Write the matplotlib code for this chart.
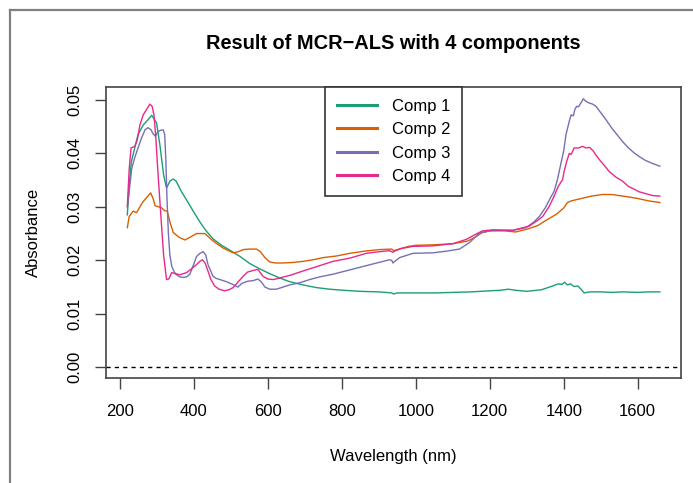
##````````````````````````````````````````````````````````````````````````````````````##
# MCR-ALS result plot, 4 resolved spectra
#
# import libraries
import numpy as np
import matplotlib
matplotlib.use("Agg")
import matplotlib.pyplot as plt
from matplotlib.lines import Line2D

##````````````````````````````````````````````````````````````````````````````````````##
# data (wavelength in nm, absorbance)

comp1_wl = [220, 225, 231, 249, 263, 275, 286, 299, 308, 318, 326, 335, 344, 352, 365,
            380, 398, 416, 433, 452, 475, 497, 525, 551, 578, 605, 632, 659, 695, 731,
            767, 803, 850, 900, 935, 940, 950, 1000, 1050, 1100, 1150, 1200, 1230, 1250,
            1270, 1300, 1340, 1370, 1385, 1395, 1402, 1410, 1418, 1428, 1438, 1448, 1455,
            1470, 1500, 1530, 1560, 1600, 1630, 1660]
comp1_abs = [0.0285, 0.0340, 0.0385, 0.0435, 0.0453, 0.0462, 0.0471, 0.0457, 0.0416, 0.0360,
             0.0335, 0.0348, 0.0352, 0.0348, 0.0330, 0.0313, 0.0292, 0.0272, 0.0255, 0.0240,
             0.0228, 0.0219, 0.0207, 0.0194, 0.0184, 0.0175, 0.0167, 0.0160, 0.0154, 0.0149,
             0.0146, 0.0144, 0.0142, 0.0141, 0.0139, 0.0137, 0.0139, 0.0139, 0.0139, 0.0140,
             0.0141, 0.0143, 0.0144, 0.0146, 0.0144, 0.0142, 0.0145, 0.0152, 0.0156, 0.0155,
             0.0159, 0.0154, 0.0156, 0.0151, 0.0152, 0.0145, 0.0139, 0.0141, 0.0141, 0.0140,
             0.0141, 0.0140, 0.0141, 0.0141]

comp2_wl = [220, 225, 236, 245, 254, 263, 273, 283, 290, 295, 305, 313, 320, 328, 335, 344,
            360, 376, 392, 407, 430, 452, 479, 506, 520, 533, 550, 569, 580, 592, 605, 620,
            641, 668, 695, 722, 749, 785, 821, 860, 900, 935, 940, 950, 980, 1000, 1050,
            1100, 1140, 1160, 1180, 1200, 1240, 1270, 1300, 1330, 1350, 1380, 1400, 1410,
            1420, 1450, 1475, 1504, 1530, 1550, 1580, 1604, 1630, 1660]
comp2_abs = [0.0261, 0.0282, 0.0292, 0.0289, 0.0300, 0.0310, 0.0318, 0.0326, 0.0315, 0.0302,
             0.0300, 0.0298, 0.0293, 0.0292, 0.0272, 0.0252, 0.0243, 0.0238, 0.0244, 0.0250,
             0.0250, 0.0236, 0.0223, 0.0214, 0.0216, 0.0220, 0.0221, 0.0221, 0.0216, 0.0205,
             0.0197, 0.0195, 0.0195, 0.0196, 0.0198, 0.0201, 0.0205, 0.0208, 0.0213, 0.0217,
             0.0220, 0.0221, 0.0218, 0.0220, 0.0226, 0.0228, 0.0229, 0.0231, 0.0236, 0.0243,
             0.0252, 0.0255, 0.0255, 0.0253, 0.0258, 0.0265, 0.0274, 0.0286, 0.0298, 0.0308,
             0.0311, 0.0316, 0.0320, 0.0323, 0.0323, 0.0321, 0.0318, 0.0315, 0.0311, 0.0308]

comp3_wl = [220, 226, 232, 240, 249, 258, 268, 276, 284, 290, 296, 303, 310, 317, 321, 324,
            327, 331, 335, 340, 347, 353, 362, 371, 380, 389, 398, 407, 416, 425, 432, 438,
            446, 452, 461, 475, 488, 505, 519, 530, 546, 560, 573, 582, 592, 605, 623, 641,
            659, 686, 713, 740, 776, 821, 866, 900, 929, 935, 938, 945, 956, 992, 1046,
            1082, 1118, 1145, 1172, 1208, 1262, 1298, 1320, 1334, 1350, 1361, 1374, 1383,
            1392, 1400, 1406, 1415, 1420, 1426, 1430, 1435, 1440, 1447, 1453, 1460, 1469,
            1478, 1487, 1500, 1514, 1530, 1545, 1559, 1575, 1590, 1604, 1620, 1640, 1660]
comp3_abs = [0.0298, 0.0335, 0.0372, 0.0392, 0.0410, 0.0428, 0.0444, 0.0448, 0.0444, 0.0436,
             0.0432, 0.0441, 0.0443, 0.0444, 0.0435, 0.0390, 0.0320, 0.0250, 0.0210, 0.0189,
             0.0178, 0.0173, 0.0169, 0.0168, 0.0169, 0.0174, 0.0190, 0.0207, 0.0213, 0.0216,
             0.0210, 0.0192, 0.0179, 0.0170, 0.0166, 0.0163, 0.0160, 0.0155, 0.0150, 0.0157,
             0.0161, 0.0162, 0.0165, 0.0160, 0.0150, 0.0146, 0.0146, 0.0150, 0.0154, 0.0158,
             0.0164, 0.0169, 0.0174, 0.0182, 0.0190, 0.0196, 0.0201, 0.0200, 0.0195, 0.0199,
             0.0205, 0.0213, 0.0214, 0.0217, 0.0221, 0.0233, 0.0251, 0.0256, 0.0256, 0.0261,
             0.0272, 0.0282, 0.0298, 0.0313, 0.0329, 0.0351, 0.0380, 0.0405, 0.0435, 0.0460,
             0.0472, 0.0470, 0.0482, 0.0488, 0.0487, 0.0495, 0.0502, 0.0497, 0.0494, 0.0492,
             0.0488, 0.0476, 0.0463, 0.0447, 0.0434, 0.0422, 0.0410, 0.0401, 0.0394, 0.0387,
             0.0381, 0.0376]

comp4_wl = [220, 225, 230, 240, 247, 254, 263, 272, 281, 287, 292, 297, 302, 310, 318, 326,
            332, 340, 350, 362, 371, 380, 395, 407, 416, 423, 430, 438, 446, 456, 468, 483,
            495, 506, 520, 533, 545, 560, 573, 587, 600, 615, 632, 660, 695, 731, 776, 821,
            866, 900, 929, 938, 945, 960, 992, 1046, 1100, 1136, 1160, 1180, 1208, 1262,
            1307, 1330, 1343, 1360, 1374, 1385, 1397, 1401, 1408, 1415, 1420, 1428, 1440,
            1451, 1460, 1470, 1480, 1487, 1500, 1510, 1523, 1540, 1559, 1575, 1590, 1604,
            1620, 1640, 1660]
comp4_abs = [0.0301, 0.0370, 0.0410, 0.0413, 0.0425, 0.0453, 0.0472, 0.0482, 0.0492, 0.0488,
             0.0472, 0.0430, 0.0373, 0.0290, 0.0210, 0.0164, 0.0165, 0.0177, 0.0175, 0.0173,
             0.0175, 0.0177, 0.0185, 0.0192, 0.0198, 0.0201, 0.0195, 0.0180, 0.0164, 0.0152,
             0.0146, 0.0143, 0.0145, 0.0149, 0.0160, 0.0170, 0.0178, 0.0181, 0.0183, 0.0170,
             0.0165, 0.0164, 0.0167, 0.0172, 0.0180, 0.0188, 0.0198, 0.0204, 0.0213, 0.0216,
             0.0218, 0.0215, 0.0218, 0.0222, 0.0226, 0.0227, 0.0231, 0.0239, 0.0248, 0.0255,
             0.0257, 0.0256, 0.0264, 0.0275, 0.0282, 0.0300, 0.0320, 0.0338, 0.0351, 0.0366,
             0.0385, 0.0400, 0.0398, 0.0410, 0.0410, 0.0413, 0.0410, 0.0411, 0.0404, 0.0397,
             0.0385, 0.0377, 0.0366, 0.0356, 0.0348, 0.0338, 0.0333, 0.0328, 0.0325, 0.0321,
             0.0320]

labels = ["Comp 1", "Comp 2", "Comp 3", "Comp 4"]
colors = ["#1B9E77", "#D95F02", "#7570B3", "#E7298A"]   # RColorBrewer Dark2
x_ticks = [200, 400, 600, 800, 1000, 1200, 1400, 1600]
y_ticks = [0.00, 0.01, 0.02, 0.03, 0.04, 0.05]

##````````````````````````````````````````````````````````````````````````````````````##
# making the plot

plt.rcParams["font.family"] = ["Liberation Sans", "DejaVu Sans"]

fig = plt.figure(figsize=(6.93, 4.83), dpi=100)
ax = fig.add_axes([0.153, 0.2174, 0.830, 0.6025])

series = [(comp1_wl, comp1_abs), (comp2_wl, comp2_abs),
          (comp3_wl, comp3_abs), (comp4_wl, comp4_abs)]
for (wl, ab), lab, col in zip(series, labels, colors):
    ax.plot(wl, ab, color=col, lw=1.0, label=lab)

# dashed zero line across the whole box
ax.axhline(0, color="black", lw=1.0, ls=(0, (3, 3)))

# R style limits (data range plus 4 %)
ax.set_xlim(162.4, 1717.6)
ax.set_ylim(-0.002, 0.0524)

ax.set_xticks(x_ticks)
ax.set_xticklabels([str(v) for v in x_ticks])
ax.set_yticks(y_ticks)
ax.set_yticklabels(["%.2f" % v for v in y_ticks], rotation=90, va="center")
ax.tick_params(direction="out", length=8, width=1.0, color="#444444",
               labelsize=12, pad=11)
ax.tick_params(axis="y", pad=9)

for s in ax.spines.values():
    s.set_color("#444444")
    s.set_linewidth(1.2)

ax.set_xlabel("Wavelength (nm)", fontsize=12, labelpad=21)
ax.set_ylabel("Absorbance", fontsize=12, labelpad=19)
ax.set_title("Result of MCR\u2212ALS with 4 components", fontsize=14.4,
             fontweight="bold", pad=27)

# legend sits at the top centre of the box
handles = [Line2D([0], [0], color=c, lw=2.2) for c in colors]
leg = ax.legend(handles, labels, loc="upper center", bbox_to_anchor=(0.5, 1.0),
                borderaxespad=0, fontsize=12, handlelength=2.4, handletextpad=0.9,
                labelspacing=0.5, borderpad=0.72, fancybox=False, framealpha=1)
leg.get_frame().set_edgecolor("#333333")
leg.get_frame().set_linewidth(1.2)

# grey frame along the left and top of the picture
fig.add_artist(Line2D([9.5 / 693, 9.5 / 693], [0, 1 - 9.5 / 483],
                      transform=fig.transFigure, color="#808080", lw=1.6))
fig.add_artist(Line2D([9.5 / 693, 1], [1 - 9.5 / 483, 1 - 9.5 / 483],
                      transform=fig.transFigure, color="#808080", lw=1.6))

fig.savefig("out.png", dpi=100)
